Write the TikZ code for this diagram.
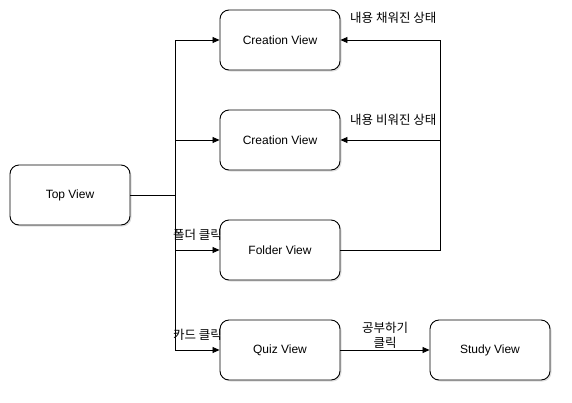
\documentclass[tikz,border=0pt]{standalone}
\usepackage{fontspec}
\setmainfont{Liberation Sans}
\newfontfamily\kr{Noto Sans CJK KR}
\usetikzlibrary{arrows.meta,shadows}
\begin{document}
\begin{tikzpicture}[x=1pt,y=-1pt,
  viewbox/.style={draw,line width=0.9pt,rounded corners=9pt,minimum width=120pt,minimum height=60pt,inner sep=0pt,fill=white,font=\fontsize{12}{14}\selectfont,
    drop shadow={shadow xshift=1.5pt,shadow yshift=-1.5pt,opacity=0.25}},
  conn/.style={line width=0.8pt},
  arr/.style={conn,-{Triangle[length=7pt,width=6pt]}},
  lbl/.style={font=\kr\fontsize{12.5}{15}\selectfont,inner sep=1pt}]
\useasboundingbox (0,0) rectangle (572,402);
\node[viewbox] (top) at (70,195) {Top View};
\node[viewbox] (c1) at (280,40) {Creation View};
\node[viewbox] (c2) at (280,140) {Creation View};
\node[viewbox] (fv) at (280,250) {Folder View};
\node[viewbox] (qv) at (280,350) {Quiz View};
\node[viewbox] (sv) at (490,350) {Study View};
\coordinate (j) at (175,195);
\coordinate (r) at (440,250);
\draw[conn] (top.east) -- (j);
\draw[arr] (j) |- (c1.west);
\draw[arr] (j) |- (c2.west);
\draw[arr] (j) |- (fv.west);
\draw[arr] (j) |- (qv.west);
\draw[arr] (fv.east) -| (r |- c1.east) -- (c1.east);
\draw[arr] (r |- c2.east) -- (c2.east);
\draw[arr] (qv.east) -- (sv.west);
\node[lbl,anchor=west] (l1) at (349,18) {내용 채워진 상태};
\node[lbl,anchor=west] (l2) at (349,120) {내용 비워진 상태};
\node[lbl,anchor=east] (l3) at (223,235) {폴더 클릭};
\node[lbl,anchor=east] (l4) at (223,335) {카드 클릭};
\node[lbl,align=center] (l5) at (385,335) {공부하기\\클릭};
\end{tikzpicture}
\end{document}
